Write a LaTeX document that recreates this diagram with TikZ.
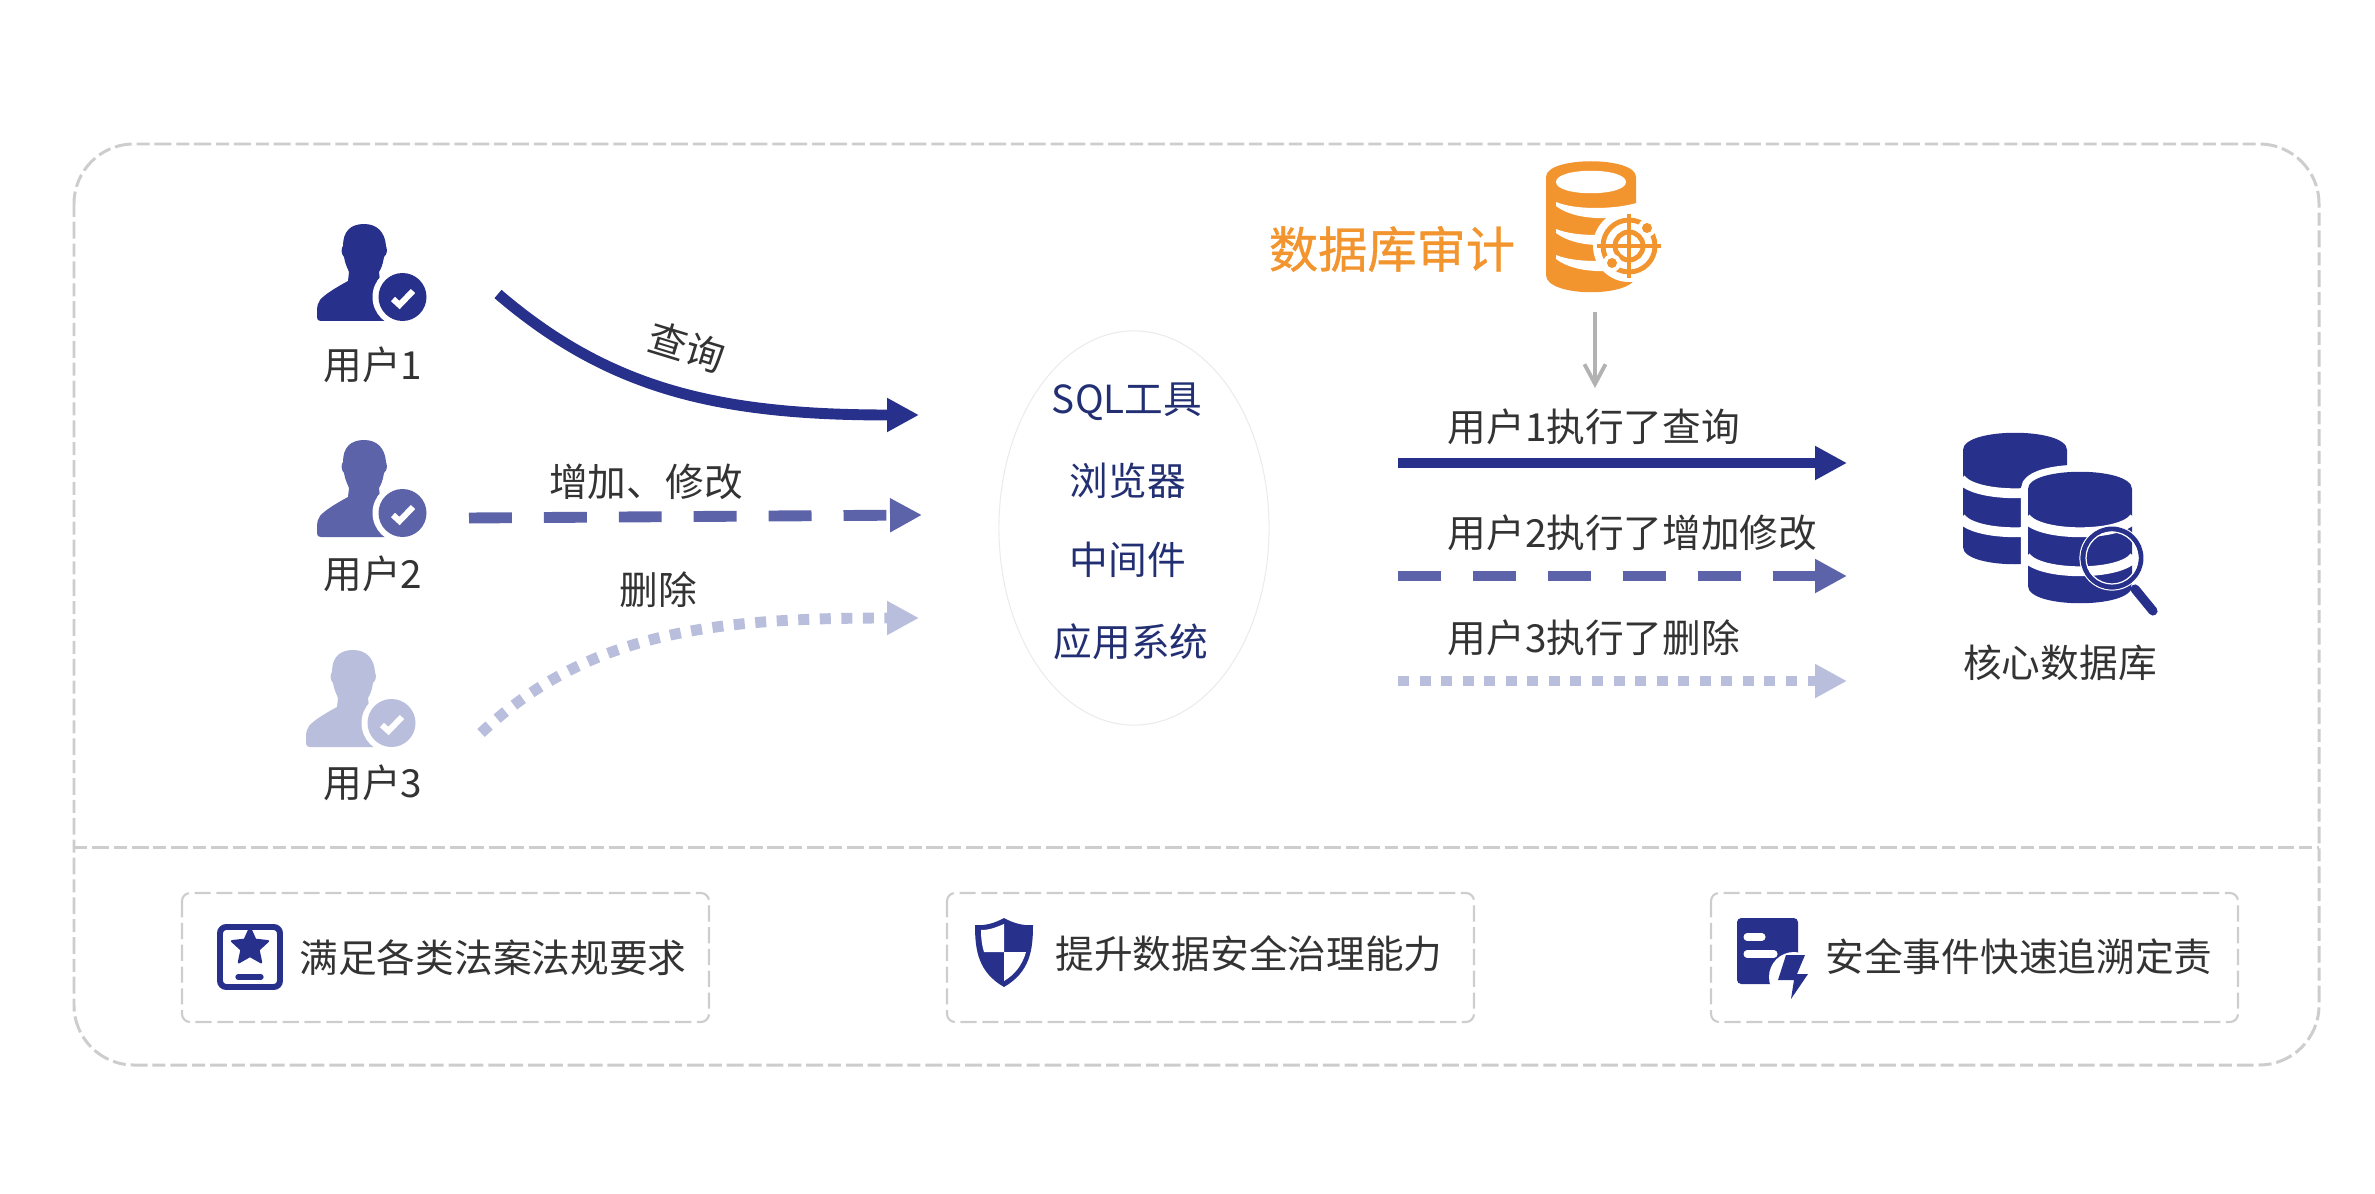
\documentclass[tikz,border=0pt]{standalone}
\usepackage{fontspec}
\setmainfont{Noto Sans CJK SC}
\newfontfamily\auditfont[FakeBold=0.7]{Noto Sans CJK SC}
\usetikzlibrary{arrows.meta,shapes.geometric}
\definecolor{navy}{HTML}{27308A}
\definecolor{midblue}{HTML}{5C63A9}
\definecolor{paleblue}{HTML}{B9BEDC}
\definecolor{inktext}{HTML}{333333}
\definecolor{tooltext}{HTML}{232F73}
\definecolor{auditor}{HTML}{F2952E}
\definecolor{rule}{HTML}{CDCDCD}
\tikzset{
  lab/.style={text=inktext,font=\fontsize{11pt}{13pt}\selectfont,inner sep=0pt},
  tool/.style={text=tooltext,font=\fontsize{11pt}{13pt}\selectfont,inner sep=0pt},
  goalbox/.style={draw=rule,line width=0.6pt,rounded corners=2.3pt,dash pattern=on 4.6pt off 1.6pt},
  solidline/.style={navy,line width=3.1pt,-{Triangle[length=9.1pt,width=9.1pt]}},
  dashline/.style={midblue,line width=3.1pt,dash pattern=on 12.2pt off 9.1pt,-{Triangle[length=9.1pt,width=9.1pt]}},
  dotline/.style={paleblue,line width=3.1pt,dash pattern=on 3.13pt off 3pt,-{Triangle[length=9.1pt,width=9.1pt]}}
}
% one stack of three disks
\newcommand{\dbstack}[2]{
  \fill[navy] (#1-52,#2) .. controls (#1-52,#2-23) and (#1+52,#2-23) .. (#1+52,#2)
    -- (#1+52,#2+97) .. controls (#1+52,#2+120) and (#1-52,#2+120) .. (#1-52,#2+97) -- cycle;
  \foreach \b in {29,68}
    \draw[white,line width=2.8pt] (#1-54,#2+\b) .. controls (#1-40,#2+\b+19) and (#1+40,#2+\b+19) .. (#1+54,#2+\b);
}
\begin{document}
\begin{tikzpicture}[x=0.01cm,y=-0.01cm]
  \useasboundingbox (0,0) rectangle (2375,1194);
  % frame
  \draw[rule,line width=0.85pt,rounded corners=17pt,dash pattern=on 3.7pt off 1.4pt on 4.8pt off 1.4pt] (74,144) rectangle (2319,1065);
  \coordinate (sepl) at (74,847);
  \coordinate (sepr) at (2319,847);
  \draw[rule,line width=0.85pt,dash pattern=on 3.7pt off 1.4pt on 4.8pt off 1.4pt] (sepl) -- (sepr);
  % users
  \foreach \ux/\uy/\ucol/\un/\ly in {317/224/navy/1/365, 317/440/midblue/2/574, 306/650/paleblue/3/783}
    {
      \begin{scope}[shift={(\ux,\uy)}]
        \fill[\ucol] (47,0) .. controls (33,0) and (26,8) .. (26,22)
          .. controls (24,24) and (24,30) .. (27,33)
          .. controls (28,40) and (31,45) .. (32,48) -- (31,57)
          .. controls (20,63) and (8,70) .. (3,76)
          .. controls (1,79) and (0,82) .. (0,85) -- (0,93)
          .. controls (0,96) and (1,97) .. (4,97) -- (80,97) -- (80,70) -- (63,57) -- (62,48)
          .. controls (64,45) and (66,40) .. (67,33)
          .. controls (71,30) and (70,24) .. (69,22)
          .. controls (68,8) and (60,0) .. (47,0) -- cycle;
        \fill[white] (85.5,73) circle (30);
        \fill[\ucol] (85.5,73) circle (24);
        \draw[white,line width=1.7pt] (76,75) -- (82.5,81) -- (96,67);
      \end{scope}
      \node[lab] (user\un) at (373,\ly) {用户\un};
    }
  % left arrows
  \coordinate (qs) at (498,294);
  \coordinate (qe) at (919,415);
  \draw[solidline] (qs) .. controls (610,390) and (720,415) .. (qe);
  \coordinate (as) at (469,518);
  \coordinate (ae) at (922,515);
  \draw[dashline] (as) -- (ae);
  \coordinate (ds) at (481,733);
  \coordinate (de) at (919,618);
  \draw[dotline] (ds) .. controls (590,630) and (720,618) .. (de);
  \node[lab,rotate=-17] (query) at (687,347) {查询};
  \node[lab] (addedit) at (646,482) {增加、修改};
  \node[lab] (remove) at (658,590) {删除};
  % tools
  \node[draw=black!8,line width=0.3pt,ellipse,minimum width=2.7cm,minimum height=3.94cm,inner sep=0pt] (tools) at (1134,528) {};
  \node[tool] (sql) at (1127,402) {SQL工具};
  \node[tool] (browser) at (1128,481) {浏览器};
  \node[tool] (middle) at (1128,560) {中间件};
  \node[tool] (apps) at (1131,642) {应用系统};
  % audit
  \node[text=auditor,font=\fontsize{14pt}{16pt}\selectfont\auditfont,inner sep=0pt] (audit) at (1392,249) {数据库审计};
  \fill[auditor] (1546,177) .. controls (1546,156) and (1636,156) .. (1636,177)
    -- (1636,275) .. controls (1636,298) and (1546,298) .. (1546,275) -- cycle;
  \fill[white] (1556,182) .. controls (1556,167) and (1626,167) .. (1626,182) .. controls (1626,197) and (1556,197) .. (1556,182) -- cycle;
  \foreach \by in {0,27,53}
    \fill[white] (1556,202+\by) .. controls (1575,210+\by) and (1615,210+\by) .. (1640,202+\by)
      -- (1640,212+\by) .. controls (1615,221+\by) and (1575,221+\by) .. (1556,206+\by) -- cycle;
  \fill[white] (1629,246) circle (36);
  \draw[auditor,line width=1.4pt] (1629,246) circle (26);
  \draw[auditor,line width=1.4pt] (1629,246) circle (14);
  \fill[white] (1647,228) circle (9);
  \fill[white] (1612,263) circle (9);
  \fill[auditor] (1647,228) circle (5);
  \fill[auditor] (1612,263) circle (5);
  \draw[auditor,line width=1.4pt] (1597,246) -- (1661,246);
  \draw[auditor,line width=1.4pt] (1629,214) -- (1629,278);
  \coordinate (gs) at (1595,312);
  \coordinate (ge) at (1595,388);
  \draw[black!30,line width=1.1pt,-{Straight Barb[length=5.6pt,width=6pt]}] (gs) -- (ge);
  % right arrows
  \foreach \rn/\rstyle/\ry/\ty/\rtext in {1/solidline/463/427/查询, 2/dashline/576/533/增加修改, 3/dotline/681/638/删除}
    {
      \coordinate (rs\rn) at (1398,\ry);
      \coordinate (re\rn) at (1847,\ry);
      \draw[\rstyle] (rs\rn) -- (re\rn);
      \node[lab,anchor=west] (log\rn) at (1447,\ty) {用户\rn 执行了\rtext};
    }
  % core database
  \dbstack{2015}{450}
  \draw[white,line width=4pt] (2028,489) .. controls (2028,466) and (2132,466) .. (2132,489) -- (2132,586) .. controls (2132,609) and (2028,609) .. (2028,586) -- cycle;
  \dbstack{2080}{489}
  \fill[white] (2134,586) circle (3);
  \draw[navy,line width=2.6pt,line cap=round] (2135,589) -- (2153,611);
  \draw[white,line width=0.35pt] (2112,558) circle (32);
  \draw[navy,line width=1.4pt] (2112,558) circle (29);
  \draw[white,line width=0.35pt] (2112,558) circle (26);
  \node[lab] (core) at (2060,663) {核心数据库};
  % bottom boxes
  \foreach \bl/\br/\bn in {182/709/1, 947/1474/2, 1711/2238/3}
    \draw[goalbox] (\bl,893) rectangle (\br,1022);
  \draw[navy,line width=1.7pt,rounded corners=1.8pt] (220,927) rectangle (280,987);
  \node[star,star points=5,star point ratio=2.1,fill=navy,draw=navy,line width=0.6pt,line join=round,minimum size=0.38cm,inner sep=0pt] (badge) at (250,947) {};
  \draw[navy,line width=1.5pt,line cap=round] (238,977) -- (261,977);
  \node[lab] (goala) at (493,958) {满足各类法案法规要求};
  \fill[navy] (1004,918) .. controls (995,923) and (985,926) .. (975,925)
    .. controls (975,950) and (978,972) .. (1004,987)
    .. controls (1030,972) and (1033,950) .. (1033,925)
    .. controls (1023,926) and (1013,923) .. (1004,918) -- cycle;
  \fill[white] (1004,924) .. controls (997,927) and (990,930) .. (981,930)
    .. controls (981,938) and (982,946) .. (984,952) -- (1004,952) -- cycle;
  \fill[white] (1004,952) -- (1026,952) .. controls (1022,966) and (1014,975) .. (1004,981) -- cycle;
  \node[lab] (goalb) at (1249,954) {提升数据安全治理能力};
  \fill[navy,rounded corners=1.2pt] (1737,918) rectangle (1798,984);
  \draw[white,line width=2pt,line cap=round] (1747,937) -- (1762,937);
  \draw[white,line width=2pt,line cap=round] (1747,954) -- (1774,954);
  \fill[white] (1794,977) circle (25);
  \fill[navy] (1786,955) -- (1805,955) -- (1797,974) -- (1808,974) -- (1791,999) -- (1794,980) -- (1778,980) -- cycle;
  \node[lab] (goalc) at (2019,957) {安全事件快速追溯定责};
\end{tikzpicture}
\end{document}
